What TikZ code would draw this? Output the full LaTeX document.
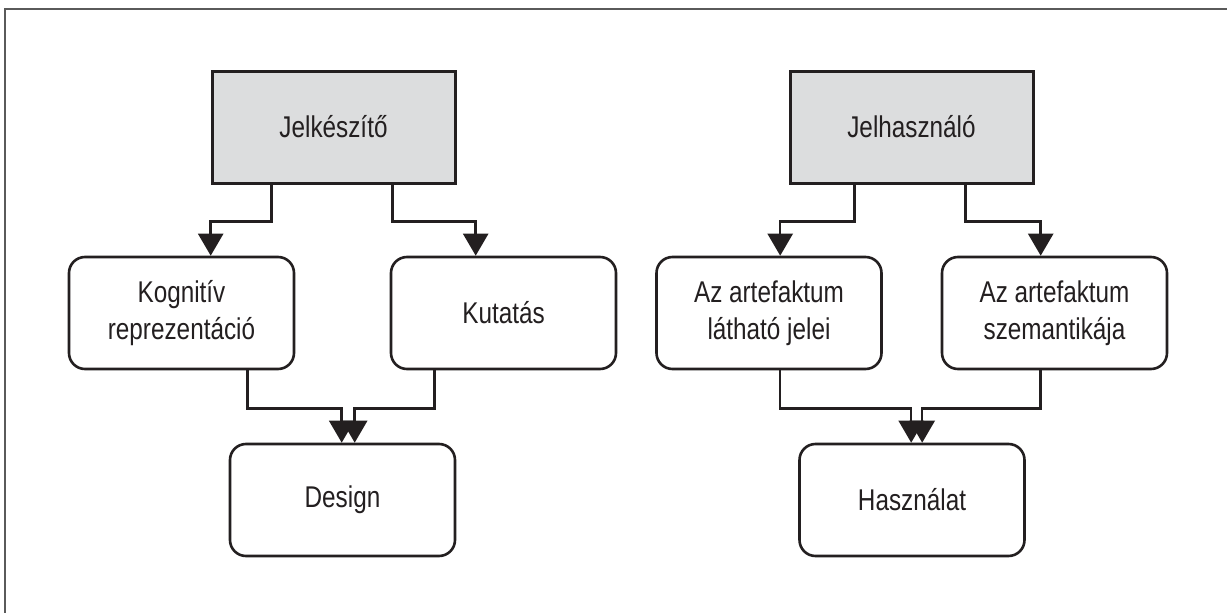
\documentclass[tikz,border=0pt]{standalone}
\usepackage{fontspec}
\setmainfont[FakeStretch=0.81]{Liberation Sans}
\usetikzlibrary{arrows.meta,calc}
\definecolor{ink}{HTML}{231F20}
\definecolor{boxgrey}{HTML}{DCDDDE}
\definecolor{framegrey}{HTML}{5A5A5A}
\tikzset{
  actor/.style={draw=ink, line width=3pt, fill=boxgrey, text=ink,
    minimum width=243pt, minimum height=112pt, inner sep=0pt,
    font=\fontsize{30}{37}\selectfont, align=center},
  stage/.style={draw=ink, line width=2.6pt, rounded corners=16pt, fill=white, text=ink,
    minimum width=225pt, minimum height=112pt, inner sep=0pt,
    font=\fontsize{30}{37}\selectfont, align=center},
  conn/.style={draw=ink, line width=2.5pt,
    -{Triangle[width=25pt,length=22pt]}},
}
\begin{document}
\begin{tikzpicture}[x=1pt,y=-1pt]
\useasboundingbox (0,0) rectangle (1227,613);
% open frame: top and left edges only
\draw[framegrey, line width=1.5pt] (1227,9) -- (5,9) -- (5,613);

% sign maker side
\node[actor] (jk) at (333.5,127) {Jelkészítő};
\node[stage] (kog) at (181.5,313) {Kognitív\\reprezentáció};
\node[stage] (kut) at (503.5,313) {Kutatás};
\node[stage] (des) at (342.5,500) {Design};

% sign user side
\node[actor] (jh) at (911.5,127) {Jelhasználó};
\node[stage] (ar1) at (769,313) {Az artefaktum\\látható jelei};
\node[stage] (ar2) at (1054.5,313) {Az artefaktum\\szemantikája};
\node[stage] (has) at (912,500) {Használat};

% connectors, left group
\draw[conn] ([xshift=61pt]jk.south west) -- ++(0,37) -| ([xshift=143pt]kog.north west);
\draw[conn] ([xshift=182pt]jk.south west) -- ++(0,37) -| ([xshift=86pt]kut.north west);
\draw[conn] ([xshift=180pt]kog.south west) -- ++(0,38) -| ([xshift=113pt]des.north west);
\draw[conn] ([xshift=45pt]kut.south west) -- ++(0,38) -| ([xshift=126pt]des.north west);

% connectors, right group
\draw[conn] ([xshift=66pt]jh.south west) -- ++(0,37) -| ([xshift=125pt]ar1.north west);
\draw[conn] ([xshift=177pt]jh.south west) -- ++(0,37) -| ([xshift=100pt]ar2.north west);
\draw[conn] ([xshift=125pt]ar1.south west) -- ++(0,38) -| ([xshift=113pt]has.north west);
\draw[conn] ([xshift=100pt]ar2.south west) -- ++(0,38) -| ([xshift=124pt]has.north west);
\end{tikzpicture}
\end{document}
